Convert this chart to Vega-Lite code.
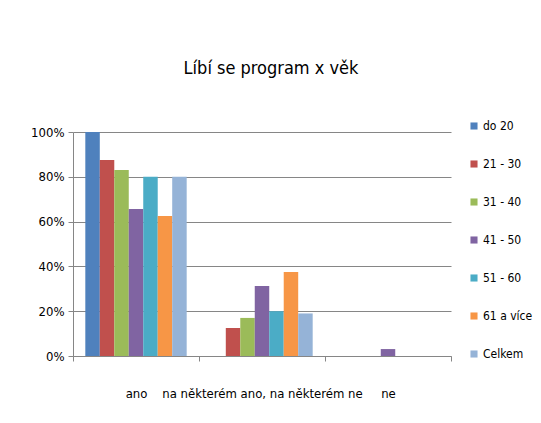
{
  "$schema": "https://vega.github.io/schema/vega-lite/v6.json",
  "autosize": "none",
  "width": 378,
  "height": 224,
  "padding": {"left": 73, "top": 132, "right": 90, "bottom": 67},
  "background": "white",
  "title": {
    "text": "Líbí se program  x věk",
    "font": "DejaVu Sans Condensed, Lato",
    "fontSize": 18,
    "fontWeight": "normal",
    "color": "#000000",
    "offset": 42,
    "dx": 9,
    "anchor": "middle"
  },
  "data": {
    "values": [
      {"odpoved": "ano", "vek": "do 20", "podil": 1.0},
      {"odpoved": "ano", "vek": "21 - 30", "podil": 0.875},
      {"odpoved": "ano", "vek": "31 - 40", "podil": 0.83},
      {"odpoved": "ano", "vek": "41 - 50", "podil": 0.656},
      {"odpoved": "ano", "vek": "51 - 60", "podil": 0.80},
      {"odpoved": "ano", "vek": "61 a více", "podil": 0.625},
      {"odpoved": "ano", "vek": "Celkem", "podil": 0.80},
      {"odpoved": "na některém ano, na některém ne", "vek": "do 20", "podil": 0.0},
      {"odpoved": "na některém ano, na některém ne", "vek": "21 - 30", "podil": 0.125},
      {"odpoved": "na některém ano, na některém ne", "vek": "31 - 40", "podil": 0.17},
      {"odpoved": "na některém ano, na některém ne", "vek": "41 - 50", "podil": 0.3125},
      {"odpoved": "na některém ano, na některém ne", "vek": "51 - 60", "podil": 0.20},
      {"odpoved": "na některém ano, na některém ne", "vek": "61 a více", "podil": 0.375},
      {"odpoved": "na některém ano, na některém ne", "vek": "Celkem", "podil": 0.19},
      {"odpoved": "ne", "vek": "do 20", "podil": 0.0},
      {"odpoved": "ne", "vek": "21 - 30", "podil": 0.0},
      {"odpoved": "ne", "vek": "31 - 40", "podil": 0.0},
      {"odpoved": "ne", "vek": "41 - 50", "podil": 0.031},
      {"odpoved": "ne", "vek": "51 - 60", "podil": 0.0},
      {"odpoved": "ne", "vek": "61 a více", "podil": 0.0},
      {"odpoved": "ne", "vek": "Celkem", "podil": 0.0}
    ]
  },
  "mark": {"type": "bar"},
  "encoding": {
    "x": {
      "field": "odpoved",
      "type": "nominal",
      "sort": null,
      "scale": {"paddingInner": 0, "paddingOuter": 0},
      "axis": {
        "title": null,
        "labelAngle": 0,
        "labelOverlap": false,
        "labelLimit": 400,
        "labelFont": "DejaVu Sans Condensed, Lato",
        "labelFontSize": 13,
        "labelColor": "#000000",
        "labelPadding": 26,
        "tickBand": "extent",
        "tickSize": 5,
        "tickColor": "#868686",
        "domainColor": "#868686",
        "grid": false
      }
    },
    "xOffset": {
      "field": "vek",
      "type": "nominal",
      "sort": null,
      "scale": {"paddingInner": 0, "paddingOuter": 0.85}
    },
    "y": {
      "field": "podil",
      "type": "quantitative",
      "scale": {"domain": [0, 1]},
      "axis": {
        "title": null,
        "format": ".0%",
        "values": [0, 0.2, 0.4, 0.6, 0.8, 1.0],
        "labelFont": "DejaVu Sans Condensed, Lato",
        "labelFontSize": 13,
        "labelColor": "#000000",
        "labelPadding": 4,
        "tickSize": 5,
        "tickColor": "#868686",
        "domainColor": "#868686",
        "gridColor": "#868686",
        "gridWidth": 1
      }
    },
    "color": {
      "field": "vek",
      "type": "nominal",
      "sort": null,
      "scale": {
        "domain": ["do 20", "21 - 30", "31 - 40", "41 - 50", "51 - 60", "61 a více", "Celkem"],
        "range": ["#4F81BD", "#C0504D", "#9BBB59", "#8064A2", "#4BACC6", "#F79646", "#95B3D7"]
      },
      "legend": {
        "title": null,
        "orient": "none",
        "legendX": 395,
        "legendY": -12,
        "symbolType": "square",
        "symbolSize": 50,
        "symbolStrokeWidth": 0,
        "labelFont": "DejaVu Sans Condensed, Lato",
        "labelFontSize": 12,
        "labelColor": "#000000",
        "labelOffset": 3,
        "rowPadding": 26
      }
    }
  },
  "config": {
    "view": {"stroke": null}
  }
}
